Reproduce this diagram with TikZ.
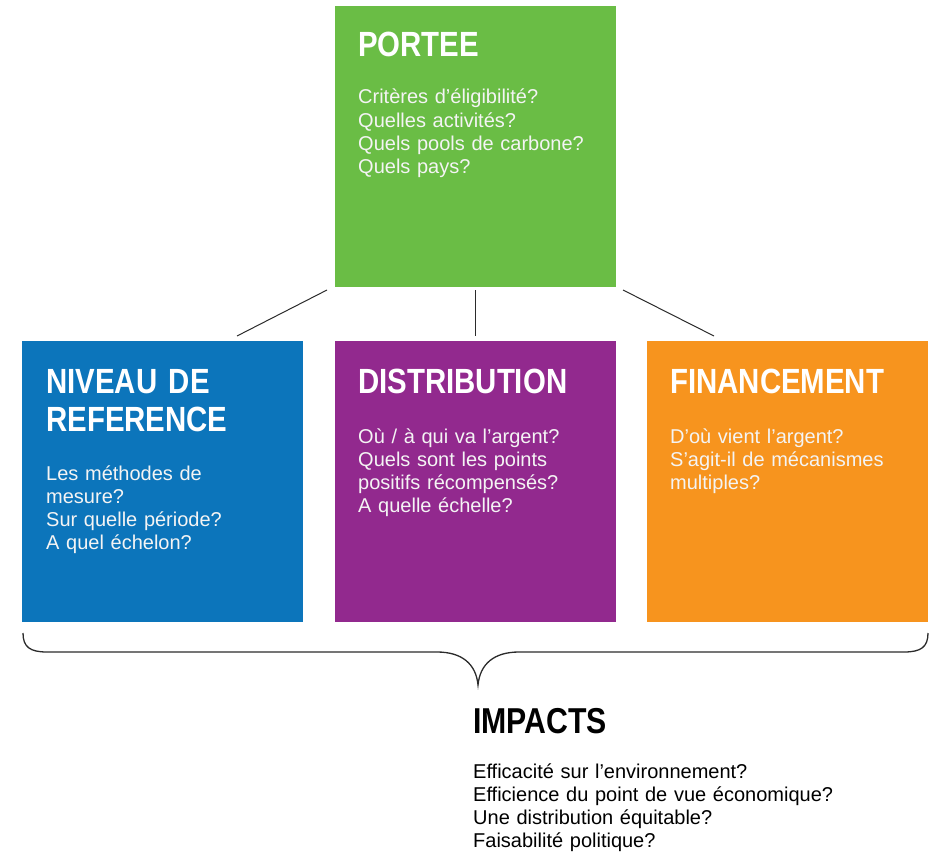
\documentclass[tikz,border=0pt]{standalone}
\usepackage{fontspec}
\setmainfont{Liberation Sans}
\newfontfamily\titlefont[FakeStretch=0.84]{Liberation Sans}
\definecolor{cgreen}{HTML}{6ABD45}
\definecolor{cblue}{HTML}{0C75BB}
\definecolor{cpurple}{HTML}{92298E}
\definecolor{corange}{HTML}{F7941E}
\definecolor{linkgray}{HTML}{2B2B2B}
\definecolor{softwhite}{HTML}{F4F4F4}
\begin{document}
\begin{tikzpicture}[x=1pt,y=-1pt,
  box/.style={draw=none, minimum width=281pt, minimum height=281pt, inner sep=0pt, outer sep=0pt},
  ttl/.style={anchor=base west, inner sep=0pt, text width=265pt, align=left,
    font=\titlefont\bfseries\fontsize{35}{38}\selectfont, text=white},
  bdy/.style={anchor=base west, inner sep=0pt, text width=255pt, align=left,
    font=\fontsize{20}{23.3}\selectfont, text=softwhite},
  link/.style={draw=linkgray, line width=1pt},
  bracestyle/.style={draw=linkgray, line width=1.3pt}]
\useasboundingbox (0,0) rectangle (933,853);

% boxes
\node[box, fill=cgreen]  (portee) at (475.5,146.5) {};
\node[box, fill=cblue]   (niveau) at (162.5,481.5) {};
\node[box, fill=cpurple] (distri) at (475.5,481.5) {};
\node[box, fill=corange] (finan)  at (787.5,481.5) {};

% texts
\node[ttl] (porteeT) at (358,57) {PORTEE};
\node[bdy] (porteeB) at (358,104) {Critères d’éligibilité?\\Quelles activités?\\Quels pools de carbone?\\Quels pays?};

\node[ttl] (niveauT) at (46,393) {NIVEAU DE\\REFERENCE};
\node[bdy] (niveauB) at (46,480) {Les méthodes de\\mesure?\\Sur quelle période?\\A quel échelon?};

\node[ttl] (distriT) at (358,393) {DISTRIBUTION};
\node[bdy] (distriB) at (358,443) {Où / à qui va l’argent?\\Quels sont les points\\positifs récompensés?\\A quelle échelle?};

\node[ttl] (finanT) at (670,393) {FINANCEMENT};
\node[bdy] (finanB) at (670,443) {D’où vient l’argent?\\S’agit-il de mécanismes\\multiples?};

\node[ttl, text=black, font=\titlefont\bfseries\fontsize{36}{38}\selectfont] (impT) at (473,733) {IMPACTS};
\node[bdy, text=black, text width=420pt] (impB) at (473,778) {Efficacité sur l’environnement?\\Efficience du point de vue économique?\\Une distribution équitable?\\Faisabilité politique?};

% connectors
\coordinate (lA) at (327,290);
\coordinate (lB) at (237,336);
\coordinate (mA) at (475,290);
\coordinate (mB) at (475,336);
\coordinate (rA) at (623,290);
\coordinate (rB) at (714,336);
\draw[link] (lA) -- (lB);
\draw[link] (mA) -- (mB);
\draw[link] (rA) -- (rB);

% brace
\coordinate (brL) at (23,633);
\coordinate (brR) at (928,633);
\coordinate (brTip) at (478,685);
\coordinate (brL1) at (47,652);
\coordinate (brL2) at (437,652);
\coordinate (brR1) at (519,652);
\coordinate (brR2) at (904,652);
\draw[bracestyle] (brL) .. controls (23,647) and (30,652) .. (brL1) -- (brL2)
  .. controls (462,652) and (476,664) .. (brTip)
  .. controls (480,664) and (494,652) .. (brR1) -- (brR2)
  .. controls (921,652) and (928,647) .. (brR);
\end{tikzpicture}
\end{document}
